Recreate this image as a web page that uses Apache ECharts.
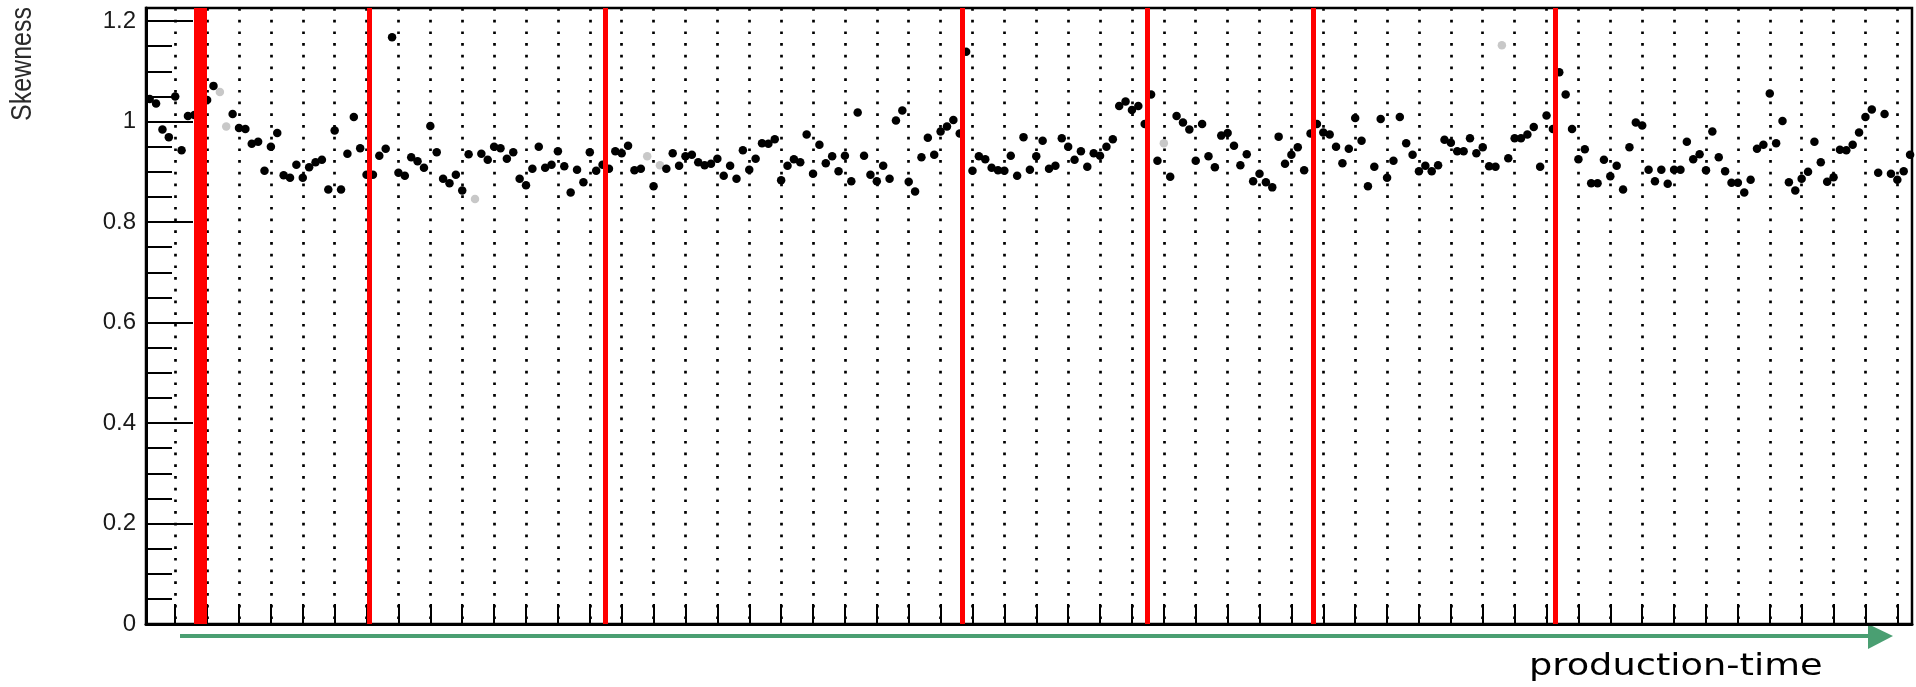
<!DOCTYPE html>
<html>
<head>
<meta charset="utf-8">
<title>Skewness vs production time</title>
<script src="https://cdn.jsdelivr.net/npm/echarts@6/dist/echarts.min.js"></script>
<style>
  html, body { margin: 0; padding: 0; background: #fff; }
  #main { width: 1916px; height: 687px; }
</style>
</head>
<body>
<div id="main"></div>
<script>
// one point per production step, x = xStart + index
var xStart = -4;
var skewness = [
  1.045, 1.036, 0.984, 0.969, 1.050, 0.943, 1.011, 1.013, null, 1.043,
  1.071, null, null, 1.015, 0.987, 0.985, 0.956, 0.960, 0.902, 0.950,
  0.977, 0.893, 0.888, 0.914, 0.888, 0.909, 0.919, 0.924, 0.865, 0.982,
  0.865, 0.936, 1.009, 0.947, 0.894, 0.894, 0.932, 0.946, 1.168, 0.898,
  0.892, 0.929, 0.921, 0.908, 0.991, 0.939, 0.886, 0.877, 0.894, 0.863,
  0.935, null, 0.936, 0.924, 0.950, 0.947, 0.926, 0.939, 0.886, 0.873,
  0.906, 0.950, 0.908, 0.914, 0.941, 0.911, 0.859, 0.904, 0.879, 0.939,
  0.902, 0.914, 0.906, 0.941, 0.937, 0.952, 0.903, 0.906, null, 0.871,
  null, 0.906, 0.937, 0.912, 0.931, 0.934, 0.919, 0.913, 0.916, 0.926,
  0.892, 0.912, 0.886, 0.943, 0.904, 0.926, 0.957, 0.956, 0.965, 0.883,
  0.912, 0.925, 0.919, 0.974, 0.896, 0.954, 0.917, 0.931, 0.901, 0.932,
  0.881, 1.018, 0.932, 0.894, 0.881, 0.912, 0.886, 1.002, 1.022, 0.880,
  0.861, 0.929, 0.968, 0.934, 0.980, 0.990, 1.003, 0.976, 1.139, 0.902,
  0.931, 0.925, 0.908, 0.903, 0.902, 0.932, 0.892, 0.969, 0.904, 0.931,
  0.962, 0.906, 0.912, 0.967, 0.950, 0.924, 0.941, 0.910, 0.937, 0.932,
  0.950, 0.965, 1.031, 1.040, 1.023, 1.031, 0.995, 1.054, 0.922, null,
  0.890, 1.011, 0.998, 0.984, 0.922, 0.995, 0.931, 0.909, 0.972, 0.977,
  0.952, 0.913, 0.935, 0.881, 0.896, 0.879, 0.869, 0.970, 0.916, 0.934,
  0.949, 0.903, 0.976, 0.995, 0.978, 0.974, 0.950, 0.917, 0.946, 1.007,
  0.962, 0.871, 0.910, 1.005, 0.888, 0.922, 1.009, 0.957, 0.934, 0.901,
  0.912, 0.901, 0.913, 0.964, 0.958, 0.941, 0.941, 0.967, 0.937, 0.949,
  0.911, 0.910, null, 0.927, 0.967, 0.967, 0.974, 0.989, 0.910, 1.012,
  0.985, 1.098, 1.054, 0.985, 0.925, 0.945, 0.877, 0.877, 0.924, 0.891,
  0.912, 0.865, 0.949, 0.998, 0.992, 0.904, 0.881, 0.904, 0.876, 0.904,
  0.904, 0.960, 0.925, 0.935, 0.903, 0.980, 0.929, 0.901, 0.878, 0.878,
  0.859, 0.884, 0.946, 0.954, 1.056, 0.957, 1.001, 0.879, 0.863, 0.886,
  0.900, 0.960, 0.919, 0.880, 0.889, 0.944, 0.943, 0.954, 0.978, 1.009,
  1.024, 0.898, 1.015, 0.896, 0.884, 0.901, 0.934
];
// light grey points
var lowStatX = [7, 8, 47, 74, 76, 155, 208];
var lowStatY = [1.059, 0.990, 0.846, 0.931, 0.913, 0.957, 1.152];
// red markers
var redLineX = [4, 30.4, 67.5, 123.4, 152.4, 178.4, 216.4];
// axis ticks
var xTicks = [0, 5, 10, 15, 20, 25, 30, 35, 40, 45, 50, 55, 60, 65, 70, 75, 80, 85, 90, 95,
  100, 105, 110, 115, 120, 125, 130, 135, 140, 145, 150, 155, 160, 165, 170, 175, 180, 185,
  190, 195, 200, 205, 210, 215, 220, 225, 230, 235, 240, 245, 250, 255, 260, 265, 270];
var yMajorTicks = [0, 0.2, 0.4, 0.6, 0.8, 1, 1.2];
var yMinorTicks = [0.05, 0.1, 0.15, 0.25, 0.3, 0.35, 0.45, 0.5, 0.55, 0.65, 0.7, 0.75,
  0.85, 0.9, 0.95, 1.05, 1.1, 1.15];

var chartDom = document.getElementById('main');
var myChart = echarts.init(chartDom);

var mainData = [];
for (var i = 0; i < skewness.length; i++) {
  if (skewness[i] !== null) mainData.push([xStart + i, skewness[i]]);
}
var greyData = [];
for (var j = 0; j < lowStatX.length; j++) {
  greyData.push([lowStatX[j], lowStatY[j]]);
}
var redLines = [];
for (var k = 0; k < redLineX.length; k++) {
  redLines.push({ xAxis: redLineX[k], lineStyle: { width: k === 0 ? 13 : 5 } });
}

var option = {
  animation: false,
  backgroundColor: '#fff',
  grid: {
    left: 146,
    right: 4,
    top: 8,
    bottom: 63,
    show: true,
    borderColor: '#000',
    borderWidth: 2.5
  },
  xAxis: {
    type: 'value',
    min: -4.58,
    max: 272.3,
    axisLine: { show: true, onZero: false, lineStyle: { color: '#000', width: 3 } },
    axisTick: {
      show: true,
      inside: true,
      length: 20,
      customValues: xTicks,
      lineStyle: { color: '#000', width: 2 }
    },
    axisLabel: { show: false },
    splitLine: {
      show: true,
      lineStyle: { color: '#000', width: 2.7, type: [2.7, 9] }
    }
  },
  yAxis: [{
    type: 'value',
    min: 0,
    max: 1.226,
    axisLine: { show: true, onZero: false, lineStyle: { color: '#000', width: 3 } },
    axisTick: {
      show: true,
      inside: true,
      length: 47,
      customValues: yMajorTicks,
      lineStyle: { color: '#000', width: 2 }
    },
    axisLabel: {
      customValues: yMajorTicks,
      margin: 10,
      color: '#1a1a1a',
      fontFamily: 'Liberation Sans',
      fontSize: 24,
      padding: [3, 0, 0, 0]
    },
    splitLine: { show: false }
  }, {
    type: 'value',
    min: 0,
    max: 1.226,
    position: 'left',
    offset: 0,
    axisLine: { show: false, onZero: false },
    axisTick: {
      show: true,
      inside: true,
      length: 26,
      customValues: yMinorTicks,
      lineStyle: { color: '#000', width: 2 }
    },
    axisLabel: { show: false },
    splitLine: { show: false }
  }],
  graphic: [
    {
      type: 'text',
      x: 23,
      y: 64,
      rotation: Math.PI / 2,
      scaleY: 1.15,
      style: {
        text: 'Skewness',
        fill: '#2a2a2a',
        font: '25px "Liberation Sans"',
        textAlign: 'center',
        textVerticalAlign: 'middle'
      }
    },
    {
      type: 'line',
      shape: { x1: 180, y1: 636, x2: 1870, y2: 636 },
      style: { stroke: '#4a9f72', lineWidth: 4 }
    },
    {
      type: 'polygon',
      shape: { points: [[1868, 624], [1893, 636], [1868, 649]] },
      style: { fill: '#4a9f72' }
    },
    {
      type: 'text',
      x: 1529,
      y: 667,
      scaleX: 1.225,
      style: {
        text: 'production-time',
        fill: '#000',
        font: '30px "DejaVu Sans"',
        textAlign: 'left',
        textVerticalAlign: 'middle'
      }
    }
  ],
  series: [
    {
      type: 'scatter',
      name: 'low',
      symbol: 'circle',
      symbolSize: 8.5,
      itemStyle: { color: '#c8c8c8', opacity: 1 },
      data: greyData
    },
    {
      type: 'scatter',
      name: 'skewness',
      symbol: 'circle',
      symbolSize: 8.5,
      itemStyle: { color: '#000', opacity: 1 },
      data: mainData,
      markLine: {
        silent: true,
        symbol: 'none',
        label: { show: false },
        lineStyle: { color: '#ff0000', type: 'solid' },
        data: redLines
      }
    }
  ]
};

myChart.setOption(option);
</script>
</body>
</html>
